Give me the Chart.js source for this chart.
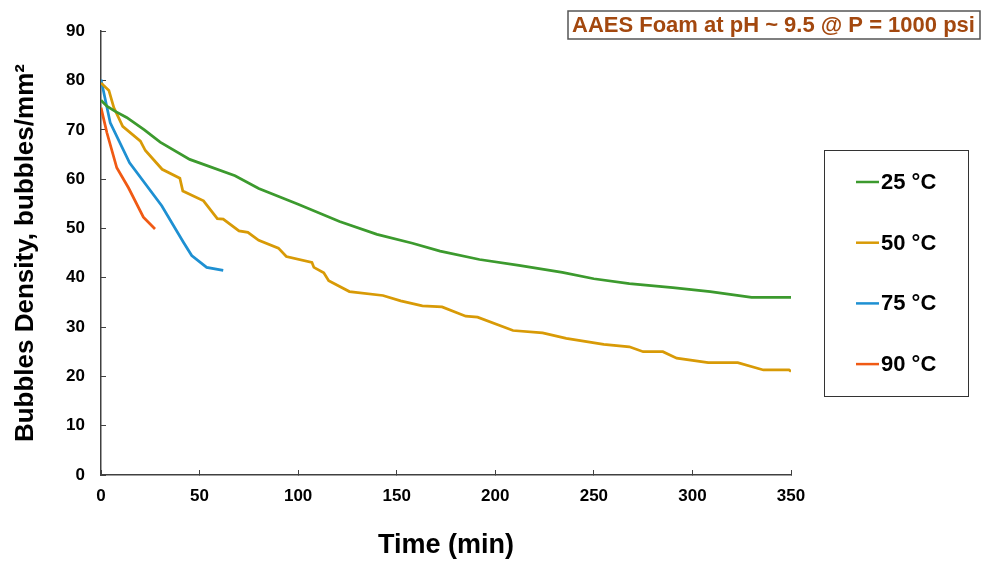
<!DOCTYPE html>
<html>
<head>
<meta charset="utf-8">
<script src="https://cdn.jsdelivr.net/npm/chart.js@4"></script>
<style>
  body { margin: 0; background: #fff; }
</style>
</head>
<body>
<canvas id="foam" width="982" height="562"></canvas>
<script>
// bubble density vs time, one series per temperature
const labels = ['25 °C', '50 °C', '75 °C', '90 °C'];
const colors = ['#3c9a2e', '#d89a06', '#1e90d2', '#f05a14'];

const t25 = [0, 3, 7, 13, 22, 30, 45, 68, 80, 100, 121, 140, 158, 172, 192, 212, 234, 250, 268, 290, 309, 330, 350];
const v25 = [76, 74.8, 73.8, 72.5, 70, 67.5, 64, 60.7, 58.1, 54.9, 51.4, 48.8, 47, 45.4, 43.7, 42.5, 41.1, 39.8, 38.8, 38, 37.2, 36, 36];

const t50 = [0, 4, 6.5, 11, 20, 22.5, 31, 40, 41.5, 52, 59, 62, 70, 74.5, 80, 90, 94, 107, 108, 113, 115.5, 126, 143, 152, 163, 173, 185, 191, 209, 224, 236, 255, 268, 275, 285, 292, 308, 323, 336, 349, 350];
const v50 = [79.5, 78, 74.5, 70.7, 67.7, 65.8, 62, 60.2, 57.6, 55.6, 52, 51.9, 49.5, 49.2, 47.6, 46, 44.3, 43.1, 42.1, 41, 39.4, 37.2, 36.4, 35.3, 34.3, 34.1, 32.2, 32, 29.3, 28.8, 27.7, 26.5, 26, 25, 25, 23.7, 22.8, 22.8, 21.3, 21.3, 21];

const t75 = [0, 4.7, 14.5, 30.8, 41.8, 46, 53.6, 62];
const v75 = [80.2, 71.4, 63.3, 54.6, 47.2, 44.5, 42.1, 41.5];

const t90 = [0, 3, 8, 14, 21.5, 27.4];
const v90 = [74.5, 69.4, 62.3, 58.2, 52.3, 49.9];

const xTicks = [0, 50, 100, 150, 200, 250, 300, 350];
const yTicks = [0, 10, 20, 30, 40, 50, 60, 70, 80, 90];

const FONT = '"Liberation Sans", Arial, sans-serif';
const pts = (t, v) => t.map((x, i) => ({ x: x, y: v[i] }));
const series = [[t25, v25], [t50, v50], [t75, v75], [t90, v90]];

// boxed caption in the top right corner
const captionBox = {
  id: 'captionBox',
  afterDraw(chart) {
    const ctx = chart.ctx;
    ctx.save();
    ctx.strokeStyle = '#555';
    ctx.lineWidth = 1.5;
    ctx.strokeRect(568, 11, 412, 28);
    ctx.fillStyle = '#a3480f';
    ctx.font = 'bold 22px ' + FONT;
    ctx.textBaseline = 'middle';
    ctx.fillText('AAES Foam at pH ~ 9.5 @ P = 1000 psi', 572, 26);
    ctx.restore();
  }
};

// legend drawn in its own framed box to the right of the plot
const tempLegend = {
  id: 'tempLegend',
  afterDraw(chart) {
    const ctx = chart.ctx;
    ctx.save();
    ctx.strokeStyle = '#333';
    ctx.lineWidth = 1;
    ctx.strokeRect(824.5, 150.5, 144, 246);
    ctx.font = 'bold 22px ' + FONT;
    ctx.textBaseline = 'middle';
    chart.data.datasets.forEach((ds, i) => {
      const y = 182 + i * 60.7;
      ctx.strokeStyle = ds.borderColor;
      ctx.lineWidth = 2.5;
      ctx.beginPath();
      ctx.moveTo(856, y);
      ctx.lineTo(879, y);
      ctx.stroke();
      ctx.fillStyle = '#000';
      ctx.fillText(ds.label, 881, y + 1);
    });
    ctx.restore();
  }
};

new Chart(document.getElementById('foam'), {
  type: 'line',
  data: {
    datasets: series.map((s, i) => ({
      label: labels[i],
      data: pts(s[0], s[1]),
      borderColor: colors[i],
      backgroundColor: colors[i],
      borderWidth: 2.75,
      pointRadius: 0,
      tension: 0,
      fill: false
    }))
  },
  options: {
    responsive: false,
    animation: false,
    layout: { padding: { left: 0, right: 191, top: 27, bottom: 0 } },
    plugins: { legend: { display: false }, tooltip: { enabled: false } },
    scales: {
      x: {
        type: 'linear',
        min: xTicks[0],
        max: xTicks[xTicks.length - 1],
        afterBuildTicks: s => { s.ticks = xTicks.map(v => ({ value: v })); },
        afterFit: s => { s.height = 87; },
        ticks: { color: '#000', font: { family: FONT, size: 17, weight: 'bold' }, padding: 16, maxRotation: 0 },
        grid: { drawOnChartArea: false, tickLength: -5, color: '#404040' },
        border: { color: '#404040', width: 1.5 },
        title: { display: true, text: 'Time (min)', color: '#000', font: { family: FONT, size: 27, weight: 'bold' }, padding: { top: 0, bottom: 0 } }
      },
      y: {
        min: yTicks[0],
        max: yTicks[yTicks.length - 1],
        afterBuildTicks: s => { s.ticks = yTicks.map(v => ({ value: v })); },
        afterFit: s => { s.width = 101; },
        ticks: { color: '#000', font: { family: FONT, size: 17, weight: 'bold' }, padding: 21 },
        grid: { drawOnChartArea: false, tickLength: -5, color: '#404040' },
        border: { color: '#404040', width: 1.5 },
        title: { display: true, text: 'Bubbles Density, bubbles/mm²', color: '#000', font: { family: FONT, size: 26, weight: 'bold' }, padding: { top: 10, bottom: 0 } }
      }
    }
  },
  plugins: [captionBox, tempLegend]
});
</script>
</body>
</html>
